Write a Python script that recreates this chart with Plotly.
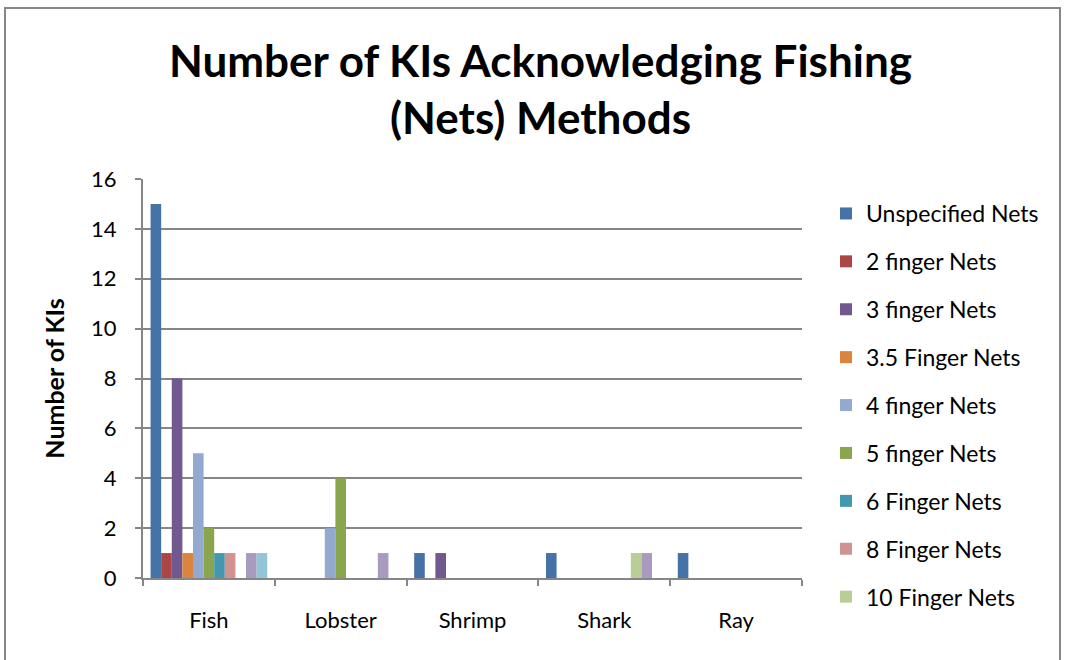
import plotly.graph_objects as go

# Catch categories and net types
categories = ["Fish", "Lobster", "Shrimp", "Shark", "Ray"]

series_names = [
    "Unspecified Nets", "2 finger Nets", "3 finger Nets", "3.5 Finger Nets",
    "4 finger Nets", "5 finger Nets", "6 Finger Nets", "8 Finger Nets",
    "10 Finger Nets", "12 Finger Nets", "Other Nets",
]

unspecified = [15, 0, 1, 1, 1]
finger_2 = [1, 0, 0, 0, 0]
finger_3 = [8, 0, 1, 0, 0]
finger_3_5 = [1, 0, 0, 0, 0]
finger_4 = [5, 2, 0, 0, 0]
finger_5 = [2, 4, 0, 0, 0]
finger_6 = [1, 0, 0, 0, 0]
finger_8 = [1, 0, 0, 0, 0]
finger_10 = [0, 0, 0, 1, 0]
finger_12 = [1, 1, 0, 1, 0]
other = [1, 0, 0, 0, 0]

series_values = [unspecified, finger_2, finger_3, finger_3_5, finger_4, finger_5,
                 finger_6, finger_8, finger_10, finger_12, other]

colors = ["#4572A7", "#AA4643", "#71588F", "#DB843D", "#93A9CF", "#89A54E",
          "#4198AF", "#D19392", "#B9CD96", "#A99BBD", "#92C5D8"]

# only the first nine series fit in the legend box
legend_count = 9

FONT = "Lato"

fig = go.Figure()
for i, (name, vals, col) in enumerate(zip(series_names, series_values, colors)):
    fig.add_trace(go.Bar(
        x=categories, y=vals, name=name,
        marker=dict(color=col, line=dict(width=0)),
        legendgroup=f"g{i}",
        showlegend=i < legend_count,
    ))

L, R, T, B = 143, 264, 179, 82
W, H = 1066, 660
pw, ph = W - L - R, H - T - B

def px_x(x):
    return (x - L) / pw

def px_y(y):
    return (H - B - y) / ph

fig.update_layout(
    width=W, height=H,
    margin=dict(l=L, r=R, t=T, b=B, pad=0),
    paper_bgcolor="white", plot_bgcolor="white",
    barmode="group", bargap=0.115, bargroupgap=0,
    font=dict(family=FONT, color="black"),
    title=dict(
        text="<b>Number of KIs Acknowledging Fishing<br>(Nets) Methods</b>",
        x=0.507, xanchor="center", y=0.884, yanchor="middle",
        font=dict(size=44, family=FONT, color="black"),
    ),
    legend=dict(
        x=px_x(826), xanchor="left", y=px_y(192), yanchor="top",
        font=dict(size=23, family=FONT, color="black"),
        tracegroupgap=15, itemwidth=30, bgcolor="rgba(0,0,0,0)",
        maxheight=640,
    ),
    xaxis=dict(
        type="category", tickson="boundaries", ticks="outside", ticklen=6,
        tickcolor="#868686", tickwidth=2,
        showline=True, linecolor="#868686", linewidth=2,
        showgrid=False, ticklabelstandoff=22,
        tickfont=dict(size=22, family=FONT, color="black"),
    ),
    yaxis=dict(
        range=[0, 16], dtick=2, tick0=0,
        showgrid=True, gridcolor="#868686", gridwidth=2,
        showline=True, linecolor="#868686", linewidth=2,
        ticks="outside", ticklen=6, tickcolor="#868686", tickwidth=2,
        zeroline=False, ticklabelstandoff=14,
        tickfont=dict(size=22, family=FONT, color="black"),
        title=dict(text="<b>Number of KIs</b>", standoff=19,
                   font=dict(size=25, family=FONT, color="black")),
    ),
    shapes=[dict(
        type="rect", xref="paper", yref="paper", layer="below",
        x0=px_x(5), x1=px_x(1060), y0=px_y(670), y1=px_y(8),
        line=dict(color="#868686", width=2), fillcolor="rgba(0,0,0,0)",
    )],
)

fig.write_html("out.html")
